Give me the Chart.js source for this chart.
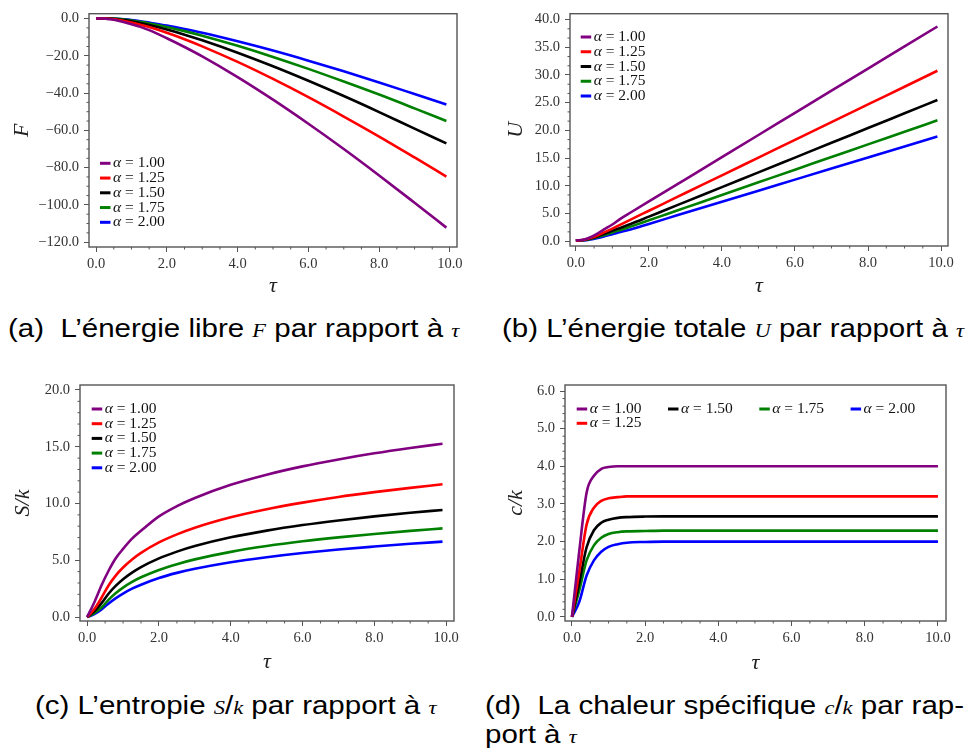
<!DOCTYPE html>
<html lang="fr">
<head>
<meta charset="utf-8">
<title>Énergie libre, énergie totale, entropie et chaleur spécifique</title>
<script src="https://cdn.jsdelivr.net/npm/chart.js@4.4.1/dist/chart.umd.min.js"></script>
<style>
  html, body { margin: 0; padding: 0; background: #fff; }
  body { width: 968px; height: 751px; position: relative; overflow: hidden; }
  canvas { position: absolute; }
  .caption {
    position: absolute;
    font-family: 'Liberation Sans', Arial, sans-serif;
    font-size: 25px;
    line-height: 26px;
    color: #000;
    white-space: nowrap;
    transform: scaleX(1.18);
    transform-origin: left top;
  }
  .caption i { font-family: 'Liberation Serif', serif; font-size: 19px; }
</style>
</head>
<body>
<canvas id="chartF" width="484" height="300" style="left:0;top:0"></canvas>
<canvas id="chartU" width="484" height="300" style="left:484px;top:0"></canvas>
<canvas id="chartS" width="484" height="310" style="left:0;top:370px"></canvas>
<canvas id="chartC" width="484" height="310" style="left:484px;top:370px"></canvas>

<div class="caption" style="left:8px;top:315px">(a)&nbsp; L’énergie libre <i>F</i> par rapport à <i>τ</i></div>
<div class="caption" style="left:502px;top:315px">(b) L’énergie totale <i>U</i> par rapport à <i>τ</i></div>
<div class="caption" style="left:35px;top:692px">(c) L’entropie <i>S</i>/<i>k</i> par rapport à <i>τ</i></div>
<div class="caption" style="left:485px;top:692px">(d)&nbsp; La chaleur spécifique <i>c</i>/<i>k</i> par rap-<br>port à <i>τ</i></div>

<script>
// temperature samples (c/k runs to 10.0, the others stop at 9.9)
const tau = [0, 0.2, 0.4, 0.6, 0.8, 1.0, 1.25, 1.5, 2, 2.5, 3, 4, 5, 6, 7, 8, 9, 9.9];
const tauHeat = [0, 0.2, 0.4, 0.6, 0.8, 1.0, 1.25, 1.5, 2, 2.5, 3, 4, 5, 6, 7, 8, 9, 10];

const alphas = ['1.00', '1.25', '1.50', '1.75', '2.00'];
const lineColors = ['#800080', '#ff0000', '#000000', '#008000', '#0000ff'];

// free energy F
const freeA100 = [0, 0, -0.42, -1.06, -1.96, -3.0, -4.47, -6.24, -10.58, -15.27, -20.31, -31.44, -43.54, -56.46, -70.0, -84.2, -98.85, -112.2];
const freeA125 = [0, 0, -0.13, -0.63, -1.29, -2.11, -3.29, -4.6, -7.66, -11.12, -14.93, -23.28, -32.42, -42.2, -52.58, -63.32, -74.54, -84.8];
const freeA150 = [0, 0, -0.04, -0.37, -0.86, -1.47, -2.44, -3.52, -5.93, -8.65, -11.67, -18.33, -25.6, -33.4, -41.6, -50.2, -59.1, -67.0];
const freeA175 = [0, 0, -0.02, -0.2, -0.56, -1.03, -1.8, -2.64, -4.55, -6.75, -9.2, -14.64, -20.6, -27.0, -33.8, -40.8, -48.2, -55.0];
const freeA200 = [0, 0, -0.01, -0.15, -0.44, -0.82, -1.43, -2.18, -3.78, -5.63, -7.65, -12.22, -17.2, -22.6, -28.3, -34.3, -40.5, -46.1];

// total energy U
const energyA100 = [0.1, 0.25, 0.7, 1.4, 2.2, 3.0, 4.16, 5.16, 7.16, 9.16, 11.16, 15.16, 19.16, 23.16, 27.16, 31.16, 35.16, 38.76];
const energyA125 = [0.1, 0.2, 0.55, 1.05, 1.65, 2.25, 3.05, 3.88, 5.48, 7.08, 8.68, 11.88, 15.08, 18.28, 21.48, 24.68, 27.88, 30.76];
const energyA150 = [0.1, 0.18, 0.45, 0.87, 1.35, 1.86, 2.45, 3.08, 4.41, 5.75, 7.08, 9.75, 12.41, 15.08, 17.75, 20.41, 23.08, 25.48];
const energyA175 = [0.1, 0.15, 0.38, 0.72, 1.13, 1.56, 2.06, 2.61, 3.75, 4.9, 6.04, 8.32, 10.61, 12.9, 15.18, 17.47, 19.75, 21.81];
const energyA200 = [0.1, 0.13, 0.3, 0.57, 0.9, 1.25, 1.7, 2.1, 3.1, 4.1, 5.1, 7.1, 9.1, 11.1, 13.1, 15.1, 17.1, 18.9];

// entropy S/k
const entropyA100 = [0, 1.3, 2.8, 4.1, 5.2, 6.0, 6.9, 7.6, 8.87, 9.77, 10.49, 11.65, 12.54, 13.27, 13.88, 14.42, 14.89, 15.27];
const entropyA125 = [0, 0.7, 1.7, 2.8, 3.67, 4.36, 5.07, 5.65, 6.57, 7.28, 7.87, 8.79, 9.5, 10.08, 10.58, 11.0, 11.38, 11.69];
const entropyA150 = [0, 0.5, 1.22, 2.07, 2.76, 3.33, 3.91, 4.4, 5.17, 5.76, 6.25, 7.02, 7.61, 8.1, 8.51, 8.87, 9.18, 9.43];
const entropyA175 = [0, 0.35, 0.84, 1.53, 2.11, 2.59, 3.09, 3.5, 4.15, 4.66, 5.08, 5.74, 6.25, 6.67, 7.02, 7.32, 7.59, 7.81];
const entropyA200 = [0, 0.25, 0.67, 1.2, 1.67, 2.07, 2.5, 2.85, 3.44, 3.89, 4.25, 4.83, 5.27, 5.64, 5.95, 6.21, 6.45, 6.64];

// specific heat c/k
const heatA100 = [0, 1.75, 3.3, 3.75, 3.93, 3.98, 4.0, 4.0, 4.0, 4.0, 4.0, 4.0, 4.0, 4.0, 4.0, 4.0, 4.0, 4.0];
const heatA125 = [0, 1.2, 2.45, 2.9, 3.08, 3.15, 3.18, 3.2, 3.2, 3.2, 3.2, 3.2, 3.2, 3.2, 3.2, 3.2, 3.2, 3.2];
const heatA150 = [0, 0.9, 1.85, 2.3, 2.5, 2.58, 2.63, 2.65, 2.665, 2.67, 2.67, 2.67, 2.67, 2.67, 2.67, 2.67, 2.67, 2.67];
const heatA175 = [0, 0.7, 1.5, 1.9, 2.1, 2.2, 2.25, 2.27, 2.28, 2.29, 2.29, 2.29, 2.29, 2.29, 2.29, 2.29, 2.29, 2.29];
const heatA200 = [0, 0.4, 1.1, 1.5, 1.73, 1.86, 1.93, 1.97, 1.99, 2.0, 2.0, 2.0, 2.0, 2.0, 2.0, 2.0, 2.0, 2.0];

const SERIF = "'Liberation Serif', 'DejaVu Serif', serif";
const AXIS_COLOR = '#555';

// 1.0 -> "1.0", -20 -> "−20.0"
const fmt = v => (v < 0 ? '\u2212' : '') + Math.abs(v).toFixed(1);

// frame, minor ticks and an inset legend
const plotFrame = {
    id: 'plotFrame',
    afterDraw(chart, args, opts) {
        const { ctx, chartArea: a } = chart;
        ctx.save();

        ctx.strokeStyle = AXIS_COLOR;
        ctx.lineWidth = 1;
        ['x', 'y'].forEach(id => {
            const scale = chart.scales[id];
            const { major, n } = opts[id];
            const start = Math.floor(scale.min / major) * major;
            for (let i = 0; ; i++) {
                const v = start + i * major / n;
                if (v > scale.max) break;
                if (v < scale.min || i % n === 0) continue;
                const p = scale.getPixelForValue(v);
                ctx.beginPath();
                if (id === 'x') { ctx.moveTo(p, a.bottom); ctx.lineTo(p, a.bottom + 2.5); }
                else { ctx.moveTo(a.left, p); ctx.lineTo(a.left - 2.5, p); }
                ctx.stroke();
            }
        });

        ctx.lineWidth = 1.4;
        ctx.strokeRect(a.left, a.top, a.right - a.left, a.bottom - a.top);

        const lg = opts.legend;
        const ds = chart.data.datasets;
        const rows = Math.max(...lg.columns.map(c => c.length));
        const y0 = lg.anchor === 'bottom'
            ? a.bottom - lg.y - (rows - 1) * lg.rowHeight
            : a.top + lg.y;
        ctx.textBaseline = 'middle';
        lg.columns.forEach((col, ci) => {
            col.forEach((idx, ri) => {
                const x = a.left + lg.x + ci * lg.colWidth;
                const y = y0 + ri * lg.rowHeight;
                ctx.strokeStyle = ds[idx].borderColor;
                ctx.lineWidth = 3;
                ctx.beginPath();
                ctx.moveTo(x, y);
                ctx.lineTo(x + 10.5, y);
                ctx.stroke();

                const label = ds[idx].label;
                let tx = x + 13;
                ctx.fillStyle = '#111';
                ctx.font = 'italic 15.5px ' + SERIF;
                ctx.fillText(label[0], tx, y);
                tx += ctx.measureText(label[0]).width;
                ctx.font = '15.5px ' + SERIF;
                ctx.fillText(label.slice(1), tx, y);
            });
        });
        ctx.restore();
    }
};

function makeChart(canvasId, cfg) {
    const datasets = cfg.series.map((ys, i) => ({
        label: 'α = ' + alphas[i],
        data: cfg.tau.map((t, j) => ({ x: t, y: ys[j] })),
        borderColor: lineColors[i],
        borderWidth: 2.6,
        pointRadius: 0,
        cubicInterpolationMode: 'monotone',
        fill: false
    }));

    const tickFont = { family: SERIF, size: 14.5 };
    const titleFont = { family: SERIF, size: 22, style: 'italic', lineHeight: 1 };
    const gridOpts = { display: true, drawOnChartArea: false, drawTicks: true, tickLength: 5, color: AXIS_COLOR, lineWidth: 1 };

    return new Chart(document.getElementById(canvasId), {
        type: 'line',
        data: { datasets },
        options: {
            responsive: false,
            animation: false,
            events: [],
            layout: { padding: { left: 0, top: cfg.top, right: cfg.right, bottom: 0 } },
            plugins: {
                legend: { display: false },
                tooltip: { enabled: false },
                plotFrame: {
                    x: { major: 2, n: 4 },
                    y: { major: cfg.yStep, n: cfg.yMinor },
                    legend: cfg.legend
                }
            },
            scales: {
                x: {
                    type: 'linear',
                    min: cfg.xMin,
                    max: cfg.xMax,
                    border: { display: false },
                    grid: gridOpts,
                    ticks: { stepSize: 2, includeBounds: false, padding: 3, font: tickFont, color: '#333', maxRotation: 0, autoSkip: false, callback: fmt },
                    title: { display: true, text: 'τ', font: titleFont, color: '#222', padding: { top: 0, bottom: cfg.xTitlePad } },
                    afterFit: s => { s.height = cfg.xHeight; }
                },
                y: {
                    type: 'linear',
                    min: cfg.yMin,
                    max: cfg.yMax,
                    border: { display: false },
                    grid: gridOpts,
                    ticks: { stepSize: cfg.yStep, includeBounds: false, padding: 5, font: tickFont, color: '#333', autoSkip: false, callback: fmt },
                    title: { display: true, text: cfg.yTitle, font: titleFont, color: '#222', padding: { top: cfg.yTitlePad, bottom: 0 } },
                    afterFit: s => { s.width = cfg.yWidth; }
                }
            }
        },
        plugins: [plotFrame]
    });
}

// (a) free energy
makeChart('chartF', {
    tau: tau,
    series: [freeA100, freeA125, freeA150, freeA175, freeA200],
    xMin: -0.2, xMax: 10.2, yMin: -122.6, yMax: 2.6, yStep: 20, yMinor: 4,
    top: 7, right: 27, yWidth: 89, xHeight: 53,
    yTitle: 'F', yTitlePad: 11, xTitlePad: 3,
    legend: { anchor: 'bottom', x: 11, y: 24.7, rowHeight: 14.75, colWidth: 0, columns: [[0, 1, 2, 3, 4]] }
});

// (b) total energy
makeChart('chartU', {
    tau: tau,
    series: [energyA100, energyA125, energyA150, energyA175, energyA200],
    xMin: -0.16, xMax: 10.19, yMin: -0.89, yMax: 41.07, yStep: 5, yMinor: 3,
    top: 10, right: 20, yWidth: 86, xHeight: 54,
    yTitle: 'U', yTitlePad: 21, xTitlePad: 3,
    legend: { anchor: 'top', x: 10.7, y: 23.3, rowHeight: 14.75, colWidth: 0, columns: [[0, 1, 2, 3, 4]] }
});

// (c) entropy
makeChart('chartS', {
    tau: tau,
    series: [entropyA100, entropyA125, entropyA150, entropyA175, entropyA200],
    xMin: -0.2, xMax: 10.22, yMin: -0.35, yMax: 20.44, yStep: 5, yMinor: 5,
    top: 15, right: 30, yWidth: 80, xHeight: 59,
    yTitle: 'S/k', yTitlePad: 12, xTitlePad: 7,
    legend: { anchor: 'top', x: 11.7, y: 24, rowHeight: 14.7, colWidth: 0, columns: [[0, 1, 2, 3, 4]] }
});

// (d) specific heat, legend in four columns
makeChart('chartC', {
    tau: tauHeat,
    series: [heatA100, heatA125, heatA150, heatA175, heatA200],
    xMin: -0.19, xMax: 10.22, yMin: -0.11, yMax: 6.16, yStep: 1, yMinor: 5,
    top: 15, right: 22, yWidth: 81, xHeight: 59,
    yTitle: 'c/k', yTitlePad: 21, xTitlePad: 6,
    legend: { anchor: 'top', x: 11.7, y: 24, rowHeight: 14.3, colWidth: 91.3, columns: [[0, 1], [2], [3], [4]] }
});
</script>
</body>
</html>
